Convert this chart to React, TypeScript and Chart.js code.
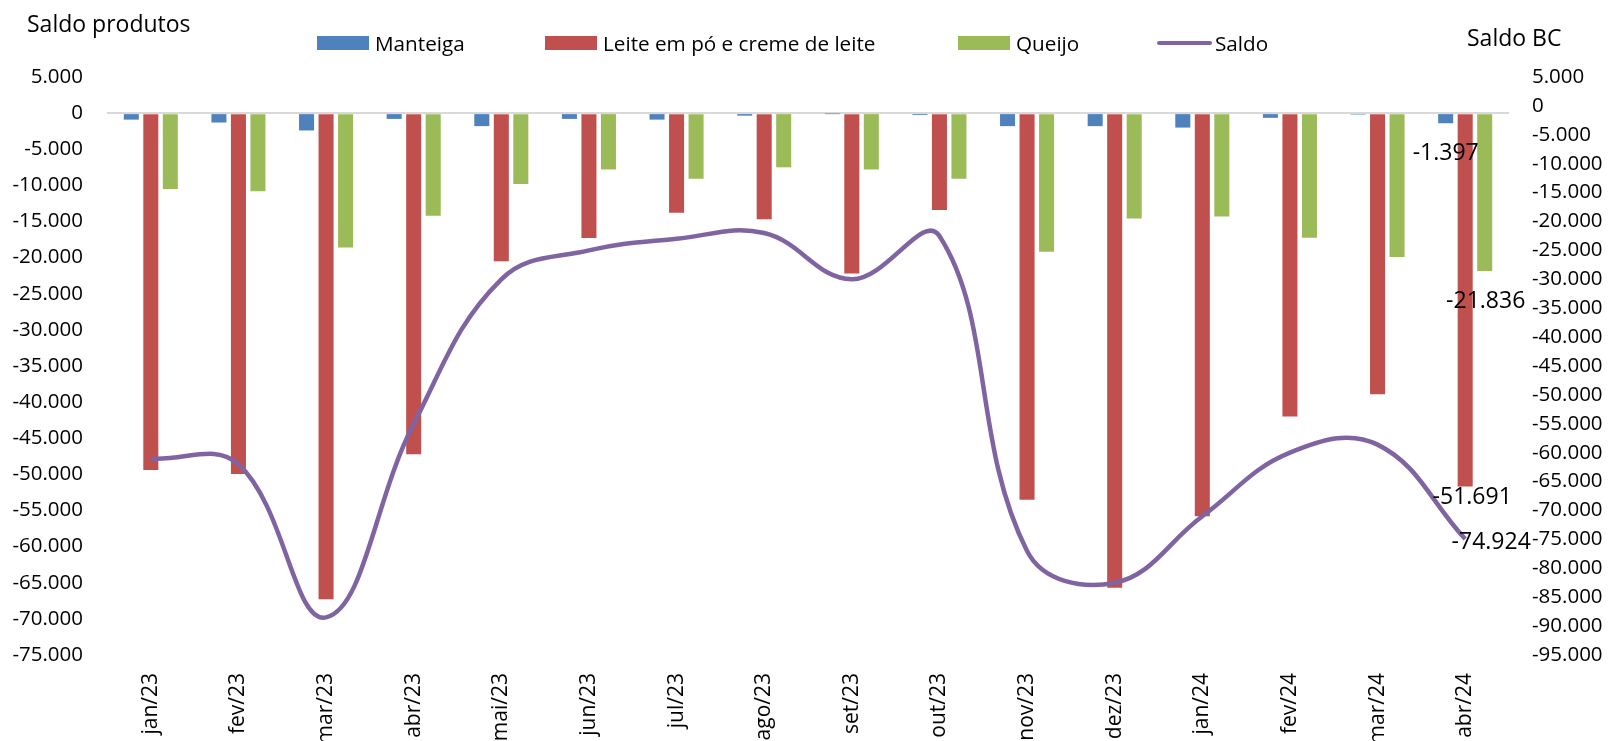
import React, { useEffect, useRef } from "react";
import { Chart, registerables } from "chart.js";

Chart.register(...registerables);

const categories = ["jan/23","fev/23","mar/23","abr/23","mai/23","jun/23","jul/23","ago/23","set/23","out/23","nov/23","dez/23","jan/24","fev/24","mar/24","abr/24"];
const manteiga = [-900,-1300,-2400,-800,-1800,-800,-900,-350,-50,-250,-1800,-1800,-2000,-650,-200,-1397];
const leite = [-49400,-49950,-67300,-47200,-20500,-17300,-13800,-14700,-22200,-13400,-53500,-65700,-55800,-42000,-38900,-51691];
const queijo = [-10500,-10800,-18600,-14200,-9800,-7800,-9100,-7500,-7800,-9100,-19200,-14600,-14300,-17250,-19900,-21836];
const saldo = [-61000,-62000,-88500,-55000,-30000,-25000,-23000,-22000,-30000,-22500,-77000,-82500,-71000,-60000,-58600,-74924];
const leftTicks = [5000,0,-5000,-10000,-15000,-20000,-25000,-30000,-35000,-40000,-45000,-50000,-55000,-60000,-65000,-70000,-75000];
const rightTicks = [5000,0,-5000,-10000,-15000,-20000,-25000,-30000,-35000,-40000,-45000,-50000,-55000,-60000,-65000,-70000,-75000,-80000,-85000,-90000,-95000];

const seriesNames = ["Manteiga","Leite em pó e creme de leite","Queijo","Saldo"];
const colors = ["#4f81bd","#c0504d","#9bbb59","#8064a2"];

const FONT = "'Open Sans', sans-serif";

const fmt = (v: number) => {
  const s = Math.abs(v).toString().replace(/\B(?=(\d{3})+(?!\d))/g, ".");
  return (v < 0 ? "-" : "") + s;
};

const lastLabels = {
  id: "lastLabels",
  afterDatasetsDraw(chart: any) {
    const ctx = chart.ctx;
    const offsets = [[0, 30], [7, 11], [1, 31], [26, 3]];
    ctx.save();
    ctx.font = "23px " + FONT;
    ctx.fillStyle = "#000";
    ctx.textAlign = "center";
    ctx.textBaseline = "middle";
    chart.data.datasets.forEach((ds: any, i: number) => {
      const meta = chart.getDatasetMeta(i);
      const n = ds.data.length - 1;
      const el = meta.data[n];
      if (!el) return;
      const [dx, dy] = offsets[i];
      ctx.fillText(fmt(ds.data[n]), el.x + dx, el.y + dy);
    });
    ctx.restore();
  },
};

export default function App() {
  const ref = useRef<HTMLCanvasElement>(null);
  useEffect(() => {
    if (!ref.current) return;
    const chart = new Chart(ref.current, {
      type: "bar",
      data: {
        labels: categories,
        datasets: [
          { type: "bar", label: seriesNames[0], data: manteiga, backgroundColor: colors[0], yAxisID: "y", order: 2 },
          { type: "bar", label: seriesNames[1], data: leite, backgroundColor: colors[1], yAxisID: "y", order: 2 },
          { type: "bar", label: seriesNames[2], data: queijo, backgroundColor: colors[2], yAxisID: "y", order: 2 },
          { type: "line", label: seriesNames[3], data: saldo, borderColor: colors[3], backgroundColor: colors[3], borderWidth: 4.5, pointRadius: 0, tension: 0.4, yAxisID: "y1", order: 1 },
        ],
      },
      options: {
        animation: false,
        responsive: true,
        maintainAspectRatio: false,
        layout: { padding: { top: 77, left: 0, right: 0, bottom: 0 } },
        datasets: { bar: { categoryPercentage: 0.668, barPercentage: 0.77 } },
        plugins: { legend: { display: false }, title: { display: false }, tooltip: { enabled: false } },
        scales: {
          x: {
            grid: { display: false, drawTicks: false },
            border: { display: false },
            ticks: { minRotation: 90, maxRotation: 90, padding: 18, color: "#000", font: { family: FONT, size: 21 } },
            afterFit: (s: any) => { s.height = 86; },
          },
          y: {
            position: "left",
            min: -75000, max: 5000,
            afterBuildTicks: (s: any) => { s.ticks = leftTicks.map((v) => ({ value: v })); },
            grid: { drawTicks: false, color: (c: any) => (c.tick && c.tick.value === 0 ? "#d9d9d9" : "rgba(0,0,0,0)"), lineWidth: 2 },
            border: { display: false },
            ticks: { padding: 24, color: "#000", font: { family: FONT, size: 20.5 }, callback: (v: any) => fmt(Number(v)) },
            afterFit: (s: any) => { s.width = 107; },
          },
          y1: {
            position: "right",
            min: -95000, max: 5000,
            afterBuildTicks: (s: any) => { s.ticks = rightTicks.map((v) => ({ value: v })); },
            grid: { display: false, drawTicks: false },
            border: { display: false },
            ticks: { padding: 23, color: "#000", font: { family: FONT, size: 20.5 }, callback: (v: any) => fmt(Number(v)) },
            afterFit: (s: any) => { s.width = 102; },
          },
        },
      },
      plugins: [lastLabels],
    });
    return () => chart.destroy();
  }, []);

  const legendItems = [
    { x: 317, kind: "box" },
    { x: 545, kind: "box" },
    { x: 958, kind: "box" },
    { x: 1157, kind: "line" },
  ];

  return (
    <div style={{ position: "fixed", left: 0, top: 0, width: 1611, height: 741, background: "#fff", fontFamily: FONT }}>
      <canvas ref={ref} />
      <div style={{ position: "absolute", left: 27, top: 8, fontSize: 23, color: "#000", lineHeight: "30px" }}>Saldo produtos</div>
      <div style={{ position: "absolute", left: 1467, top: 22, fontSize: 23, color: "#000", lineHeight: "30px" }}>Saldo BC</div>
      {legendItems.map((it, i) => (
        <div key={i} style={{ position: "absolute", left: it.x, top: 29, height: 28, display: "flex", alignItems: "center", fontSize: 20.7, color: "#000", whiteSpace: "nowrap" }}>
          {it.kind === "box" ? (
            <span style={{ display: "inline-block", width: 52, height: 14, background: colors[i], marginRight: 6 }} />
          ) : (
            <span style={{ display: "inline-block", width: 55, height: 4.5, borderRadius: 3, background: colors[i], marginRight: 3 }} />
          )}
          <span>{seriesNames[i]}</span>
        </div>
      ))}
    </div>
  );
}
